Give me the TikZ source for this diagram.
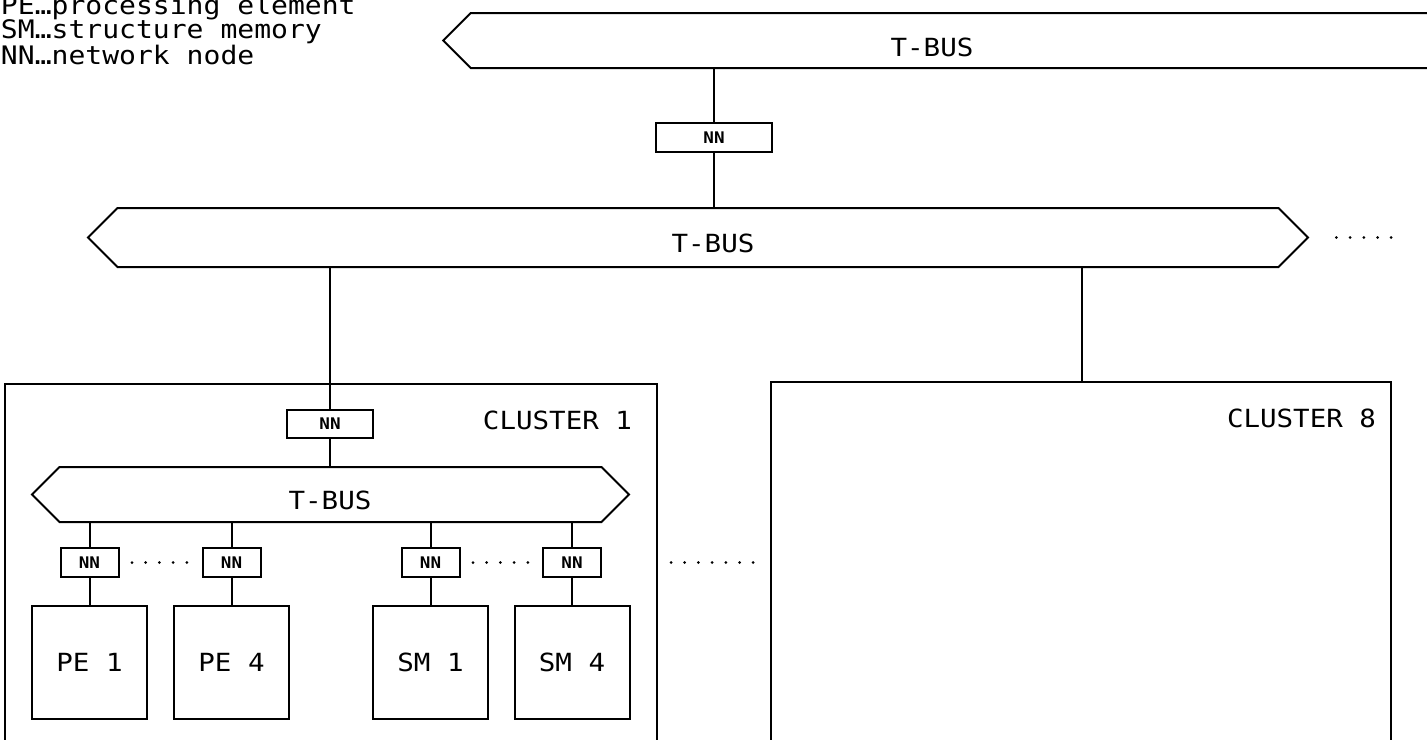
\documentclass[tikz,border=0pt]{standalone}
\usepackage{fontspec}
\setmainfont{DejaVu Sans Mono}[FakeStretch=1.1]
\usetikzlibrary{positioning, shapes.symbols}

\begin{document}
\begin{tikzpicture}[x=1pt, y=-1pt, line width=2pt, node distance=27pt,
	tbus/.style={draw, signal, signal pointer angle=90, inner sep=0pt, minimum height=55pt},
	nn/.style={draw, rectangle, inner sep=0pt, minimum width=58pt, minimum height=29pt, font=\fontsize{16}{16}\selectfont\bfseries},
	unit/.style={draw, rectangle, inner sep=0pt, minimum width=115pt, minimum height=113pt, font=\fontsize{25}{25}\selectfont},
	cluster/.style={draw, rectangle, inner sep=0pt, anchor=north west, minimum height=420pt},
	txt/.style={inner sep=0pt, font=\fontsize{25}{25}\selectfont},
	legend/.style={inner sep=0pt, anchor=base west, font=\fontsize{25.5}{25.5}\selectfont},
	dots/.style={line width=3pt, line cap=round, dash pattern=on 0pt off 13.7pt}]
	\useasboundingbox (0,0) rectangle (1427,739);
	\clip (0,0) rectangle (1427,739);
	
	% legend
	\node[legend] (lgpe) at (0,14) {PE…processing element};
	\node[legend] (lgsm) at (0,38) {SM…structure memory};
	\node[legend] (lgnn) at (0,64) {NN…network node};
	
	% global buses
	\node[tbus, signal to=west, minimum width=1003pt] (tbus0) at (958.5,40.5) {};
	\node[txt] (tbus0lbl) at (932,47) {T-BUS};
	\node[tbus, signal to=west and east, minimum width=1220pt, minimum height=59pt] (tbus1) at (698,237.5) {};
	\node[txt] (tbus1lbl) at (713,243) {T-BUS};
	\node[nn, minimum width=116pt] (nn0) at (714,137.5) {NN};
	
	\draw (nn0) -- (nn0 |- tbus0.south);
	\draw (nn0) -- (nn0 |- tbus1.north);
	\coordinate (more) at (1394,237.5);
	\draw[dots, shorten <=27pt] (tbus1.east) -- (more);
	
	% clusters
	\node[cluster, minimum width=652pt] (cl1) at (4,383) {};
	\node[cluster, minimum width=620pt] (cl8) at (770,381) {};
	\node[txt, below left=27pt and 25pt of cl1.north east] (cl1lbl) {CLUSTER 1};
	\node[txt, below left=27pt and 15pt of cl8.north east] (cl8lbl) {CLUSTER 8};
	\coordinate (tap8) at (1082,0);
	\draw (tap8 |- tbus1.south) -- (tap8 |- cl8.north);
	
	% inside cluster 1
	\node[nn, minimum width=86pt, minimum height=28pt] (nnc1) at (330,424) {NN};
	\node[tbus, signal to=west and east, minimum width=597pt] (tbus2) at (330.5,494.5) {};
	\node[txt] (tbus2lbl) at (330,500) {T-BUS};
	\draw (nnc1) -- (nnc1 |- tbus1.south);
	\draw (nnc1) -- (nnc1 |- tbus2.north);
	
	\foreach \x/\n/\t in {89.5/pe1/PE 1, 231.5/pe4/PE 4, 430.5/sm1/SM 1, 572/sm4/SM 4} {
		\node[nn] (nn\n) at (\x,562.5) {NN};
		\node[unit, below=of nn\n] (\n) {\t};
		\draw (nn\n) -- (nn\n |- tbus2.south);
		\draw (nn\n) -- (\n);
	}
	
	\draw[dots, shorten <=12.5pt, shorten >=12.5pt] (nnpe1.east) -- (nnpe4.west);
	\draw[dots, shorten <=12.5pt, shorten >=12.5pt] (nnsm1.east) -- (nnsm4.west);
	\draw[dots, shorten <=13pt, shorten >=13pt] (nnsm4 -| cl1.east) -- (nnsm4 -| cl8.west);
\end{tikzpicture}
\end{document}
